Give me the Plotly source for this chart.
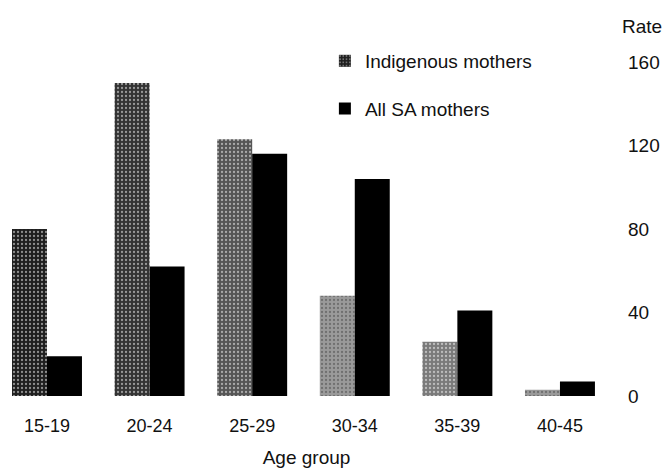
import plotly.graph_objects as go

age_groups = ["15-19", "20-24", "25-29", "30-34", "35-39", "40-45"]
indigenous = [80, 150, 123, 48, 26, 3]
all_sa = [19, 62, 116, 104, 41, 7]
y_ticks = [0, 40, 80, 120, 160]

indig_colors = ["#1e1e1e", "#333333", "#555555", "#9a9a9a", "#7a7a7a", "#9a9a9a"]

FONT = "Liberation Sans, Arial, sans-serif"

fig = go.Figure()
fig.add_trace(go.Bar(
    x=age_groups, y=indigenous, name="Indigenous mothers",
    marker=dict(color=indig_colors, line=dict(width=0),
                pattern=dict(shape=".", fgcolor="#d0d0d0", size=4, solidity=0.25)),
    legendgroup="a",
))
fig.add_trace(go.Bar(
    x=age_groups, y=all_sa, name="All SA mothers",
    marker=dict(color="#000000", line=dict(width=0)),
    legendgroup="b",
))

fig.update_layout(
    width=672, height=468,
    margin=dict(l=0, r=59, t=62, b=72),
    paper_bgcolor="white", plot_bgcolor="white",
    barmode="group", bargap=0.318, bargroupgap=0,
    font=dict(family=FONT, size=19, color="#111"),
    showlegend=True,
    legend=dict(x=0.53, y=1.06, xanchor="left", yanchor="top",
                traceorder="grouped", tracegroupgap=20,
                font=dict(size=19), itemwidth=30,
                bgcolor="rgba(0,0,0,0)"),
    xaxis=dict(range=[-0.458, 5.517], showgrid=False, showline=False, zeroline=False,
               ticks="", ticklabelstandoff=17, tickfont=dict(size=18),
               title=dict(text="Age group", font=dict(size=19), standoff=15)),
    yaxis=dict(range=[0, 160], side="right", tickvals=y_ticks, showgrid=False,
               showline=False, zeroline=False, ticks="", ticklabelstandoff=14,
               tickfont=dict(size=19)),
    annotations=[dict(text="Rate", xref="paper", yref="paper", x=1.012, y=1.105,
                      xanchor="left", yanchor="middle", showarrow=False,
                      font=dict(size=19))],
)

fig.write_html("out.html", config={"displayModeBar": False},
               post_script="document.body.style.margin='0';")
